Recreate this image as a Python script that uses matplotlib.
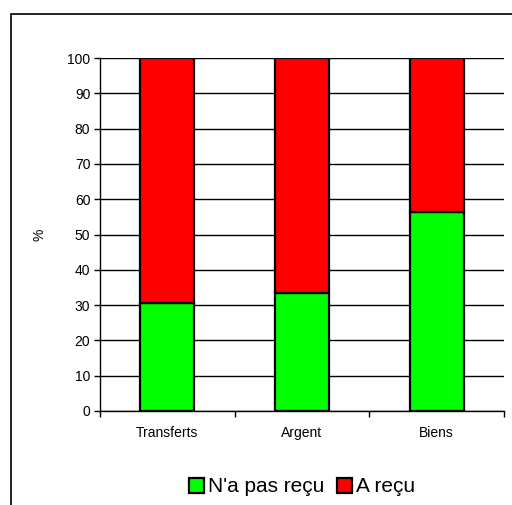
import numpy as np
import matplotlib.pyplot as plt
from matplotlib.patches import Rectangle

plt.rcParams['font.family'] = ['Liberation Sans', 'DejaVu Sans']

categories = ['Transferts', 'Argent', 'Biens']
pas_recu = [30.6, 33.4, 56.3]
a_recu = [100 - v for v in pas_recu]

fig = plt.figure(figsize=(5.12, 5.05), dpi=100)
fig.patch.set_facecolor('white')

# outer chart frame (cut off at right/bottom like the reference)
fig.patches.append(Rectangle((11 / 512, -0.1), 1.2, 1 - 14 / 505 + 0.1,
                             transform=fig.transFigure, fill=False,
                             edgecolor='black', linewidth=1.2))

ax = fig.add_axes([100 / 512, 1 - 411 / 505, 404 / 512, 353 / 505])

x = np.arange(len(categories))
ax.bar(x, pas_recu, width=0.4, color='#00ff00', edgecolor='black', linewidth=1.6,
       label="N'a pas reçu", zorder=3)
ax.bar(x, a_recu, width=0.4, bottom=pas_recu, color='#ff0000', edgecolor='black',
       linewidth=1.6, label='A reçu', zorder=3)

ax.set_xlim(-0.5, 2.5)
ax.set_ylim(0, 100)
ax.set_yticks(np.arange(0, 101, 10))
ax.set_xticks(x)
ax.set_xticklabels(categories, fontsize=10)
ax.set_xticks([-0.5, 0.5, 1.5, 2.5], minor=True)
ax.tick_params(axis='x', which='major', length=0, pad=11)
ax.tick_params(axis='x', which='minor', length=4, direction='out', width=1)
ax.tick_params(axis='y', labelsize=10, length=4, direction='out', width=1, pad=3)
ax.yaxis.grid(True, color='black', linewidth=1)
ax.set_axisbelow(True)
for s in ['top', 'right']:
    ax.spines[s].set_visible(False)
ax.spines['left'].set_linewidth(1)
ax.spines['bottom'].set_linewidth(1)
ax.set_ylabel('%', fontsize=10)
ax.yaxis.set_label_coords(-53 / 404, 0.5)

fig.legend(loc='center', bbox_to_anchor=(0.59, 1 - 487 / 505), ncol=2,
           frameon=False, fontsize=15, handlelength=0.7, handleheight=0.7,
           handletextpad=0.2, columnspacing=0.6)

plt.savefig('out.png', dpi=100)
